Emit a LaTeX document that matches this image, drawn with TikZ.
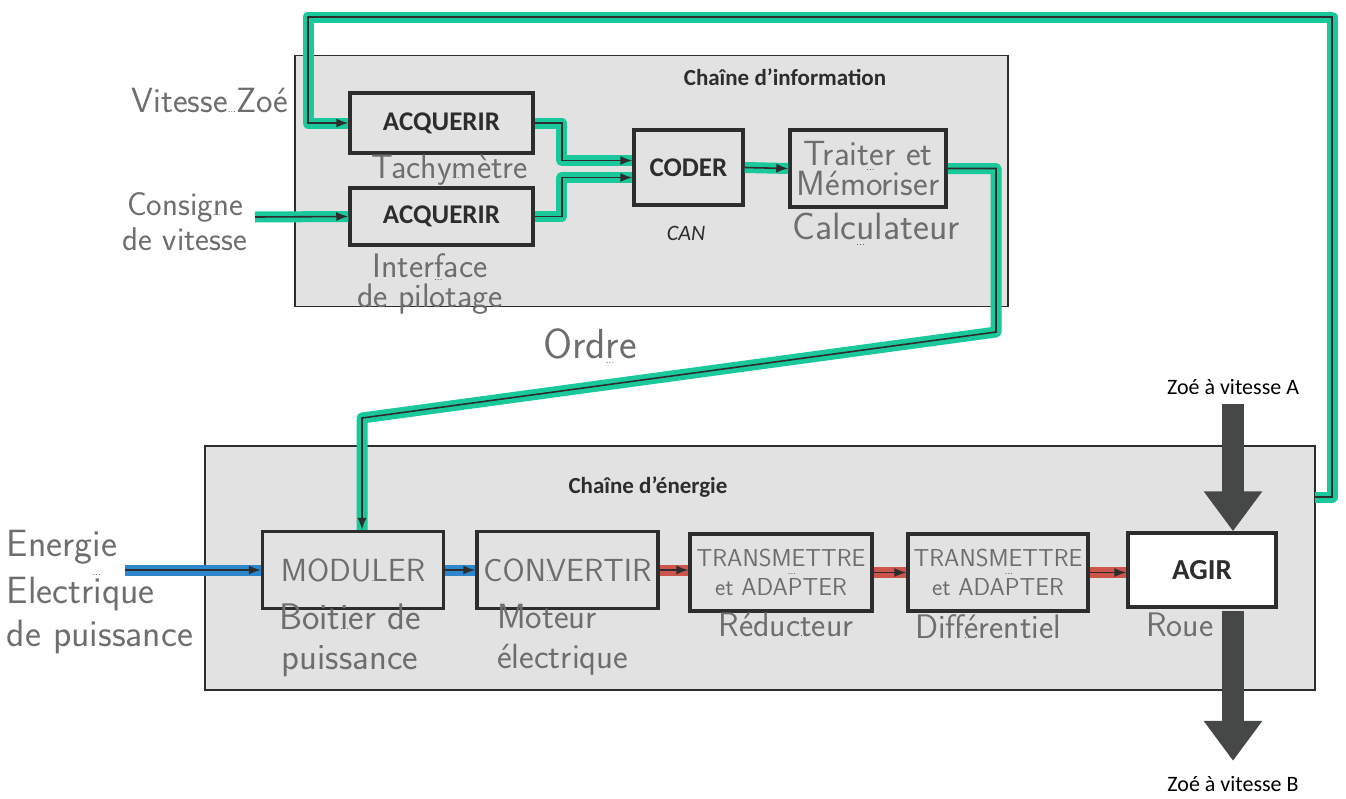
\documentclass[tikz,border=0pt]{standalone}
\usepackage{fontspec}
\setmainfont{Carlito}
\usetikzlibrary{arrows.meta,calc}
\definecolor{hlgreen}{RGB}{25,200,155}
\definecolor{hlblue}{RGB}{45,135,205}
\definecolor{hlred}{RGB}{205,85,75}
\definecolor{frm}{RGB}{226,226,226}
\definecolor{ink}{RGB}{45,45,45}
\definecolor{pen}{RGB}{110,110,110}
\definecolor{bigc}{RGB}{70,72,72}
\newcommand{\dts}[1]{\rlap{\raisebox{#1}{\fontsize{10}{10}\selectfont\color{black!85}...}}}
\newcommand{\hwsize}[2]{\fontsize{#1}{#2}\selectfont}
\begin{document}
\begin{tikzpicture}[x=1pt,y=-1pt,
  frame/.style={draw=ink, line width=1.6pt, fill=frm, inner sep=0pt},
  box/.style={draw=ink, line width=3.5pt, inner sep=0pt, align=center},
  lbl/.style={font=\bfseries\fontsize{27}{30}\selectfont, text=ink},
  title/.style={font=\bfseries\fontsize{23}{26}\selectfont, text=ink},
  plain/.style={font=\fontsize{22}{26}\selectfont, text=black},
  hw/.style={font=\sffamily, text=pen, align=center, inner sep=0pt},
  wire/.style={line width=1.6pt, draw=ink, -{Latex[length=12pt,width=9pt]}},
  gwire/.style={wire, preaction={draw=hlgreen, line width=11pt, arrows=-, line join=round}},
  bwire/.style={wire, preaction={draw=hlblue, line width=11pt, arrows=-}},
  rwire/.style={wire, preaction={draw=hlred, line width=11pt, arrows=-}},
  bigar/.style={line width=22pt, draw=bigc, -{Triangle[length=40pt,width=56pt]}}
]
\useasboundingbox (0,0) rectangle (1346,798);
\fill[white] (0,0) rectangle (1346,798);

% frames
\node[frame, minimum width=713pt, minimum height=251pt] (ifr) at (651.5,181) {};
\node[frame, minimum width=1110pt, minimum height=244pt] (efr) at (760,568) {};
\node[title] (tinfo) at (785,77) {Chaîne d’information};
\node[title] (tener) at (648,487) {Chaîne d’énergie};

% information chain boxes
\node[box, lbl, minimum width=183pt, minimum height=60pt] (acq1) at (441.5,123) {ACQUERIR};
\node[box, lbl, minimum width=183pt, minimum height=57pt] (acq2) at (441.5,216.5) {ACQUERIR};
\node[box, lbl, minimum width=109pt, minimum height=75pt] (coder) at (688.5,167.5) {CODER};
\node[box, hw, font=\sffamily\hwsize{35}{30}, minimum width=156pt, minimum height=77pt] (trait) at (868,168.5) {Traiter et\\Mém\dts{0.72em}oriser};
\node[font=\itshape\fontsize{22}{26}\selectfont, text=ink] (can) at (686,233) {CAN};

% energy chain boxes
\node[box, hw, font=\sffamily\hwsize{32}{34}, minimum width=181pt, minimum height=77pt] (modul) at (353,570) {MODU\dts{0pt}LER};
\node[box, hw, font=\sffamily\hwsize{32}{34}, minimum width=181pt, minimum height=77pt] (conv) at (567.5,570) {CON\dts{0pt}VERTIR};
\node[box, hw, font=\sffamily\hwsize{24.5}{29}, minimum width=182pt, minimum height=77pt] (tr1) at (781,572.5) {TRANSMETTRE\\et ADA\dts{0.85em}PTER};
\node[box, hw, font=\sffamily\hwsize{24.5}{29}, minimum width=180pt, minimum height=77pt] (tr2) at (998,572.5) {TRANSMETTRE\\et ADA\dts{0.85em}PTER};
\node[box, lbl, font=\bfseries\fontsize{29}{32}\selectfont, fill=white, minimum width=148pt, minimum height=74pt] (agir) at (1202,570) {AGIR};

% handwritten labels
\node[hw, font=\sffamily\hwsize{35}{36}] (vz) at (210,100) {Vitesse\raisebox{0pt}{\fontsize{10}{10}\selectfont\color{black!85}...}Zoé};
\node[hw, font=\sffamily\hwsize{33}{35}] (cons) at (185,222) {Consig\dts{0pt}ne\\de vitesse};
\node[hw, font=\sffamily\hwsize{34}{36}] (tach) at (450,170) {Tachy\dts{0pt}mètre};
\node[hw, font=\sffamily\hwsize{34}{30}] (intf) at (430,284) {Inter\dts{-0.1em}face\\de pilotage};
\node[hw, font=\sffamily\hwsize{38}{40}] (calc) at (876,229) {Calc\dts{-0.15em}ulateur};
\node[hw, font=\sffamily\hwsize{42}{44}] (ordre) at (590,346) {Ord\dts{-0.1em}re};
\node[hw, font=\sffamily\hwsize{38}{43}, align=left] (ener) at (100,592) {Energ\dts{-0.5em}ie\\Electrique\\de puissance};
\node[hw, font=\sffamily\hwsize{37}{40}] (boit) at (350,640) {Boit\dts{0pt}ier de\\puissance};
\node[hw, font=\sffamily\hwsize{35}{40}, align=left, anchor=west] (mot) at (497,640) {Moteur\\électrique};
\node[hw, font=\sffamily\hwsize{34}{36}] (redu) at (786,625) {Réduc\dts{0pt}teur};
\node[hw, font=\sffamily\hwsize{34}{36}] (diff) at (988,627) {Diff\dts{0pt}érentiel};
\node[hw, font=\sffamily\hwsize{34}{36}] (roue) at (1180,625) {Ro\dts{0pt}ue};

% information connectors
\coordinate (f0) at (1315,497);
\coordinate (f3) at (308,17);
\draw[gwire] (f0) -- (1332,497) |- (f3) |- (acq1.west);
\coordinate (c0) at (255,217);
\draw[gwire] (c0) -- (acq2.west);
\draw[gwire] (acq1.east) -- ++(27,0) |- ([yshift=7pt]coder.west);
\draw[gwire] (acq2.east) -- ++(27,0) |- ([yshift=-10pt]coder.west);
\draw[gwire] (coder.east) -- (trait.west);
\coordinate (o1) at (996,332);
\coordinate (o2) at (362,418);
\draw[gwire] (trait.east) -| (o1) -- (o2) -- (o2 |- modul.north);

% energy connectors
\coordinate (e0) at (125,570);
\draw[bwire] (e0) -- (modul.west);
\draw[bwire] (modul.east) -- (conv.west);
\draw[rwire] (conv.east) -- (conv.east -| tr1.west);
\draw[rwire] (tr1.east) -- (tr1.east -| tr2.west);
\draw[rwire] (tr2.east) -- (tr2.east -| agir.west);

% big arrows
\node[plain] (za) at (1233,387) {Zoé à vitesse A};
\node[plain] (zb) at (1233,784) {Zoé à vitesse B};
\draw[bigar] ([yshift=-6pt]za.south) -- (za.south |- agir.north);
\draw[bigar] ([yshift=-2pt]zb.north |- agir.south) -- ([yshift=12pt]zb.north);
\end{tikzpicture}
\end{document}
